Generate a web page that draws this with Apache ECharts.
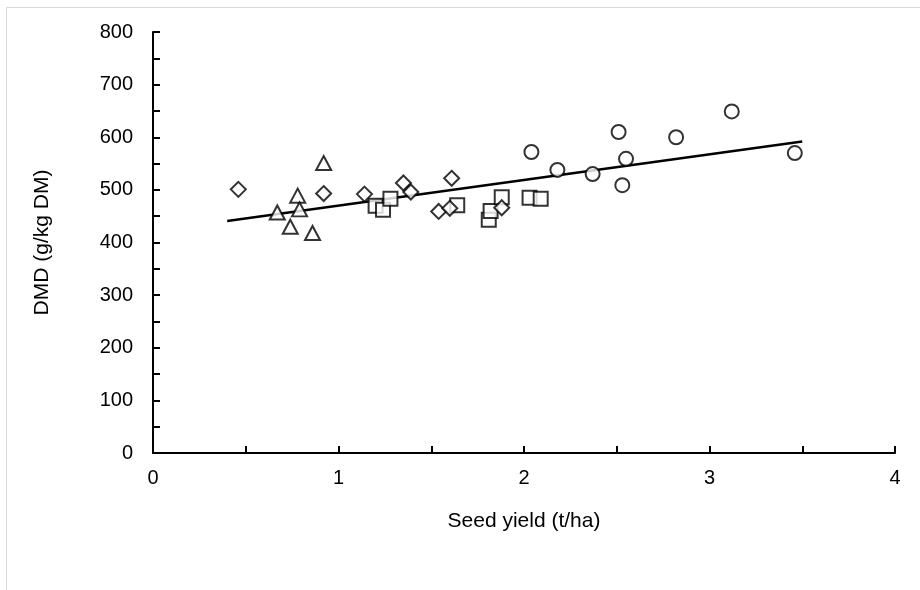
<!DOCTYPE html>
<html>
<head>
<meta charset="utf-8">
<script src="https://cdn.jsdelivr.net/npm/echarts@6/dist/echarts.min.js"></script>
<style>
  html, body { margin: 0; padding: 0; background: #fff; }
  #chart { width: 920px; height: 590px; }
</style>
</head>
<body>
<div id="chart"></div>
<script>
// seed yield (t/ha), DMD (g/kg DM) for each group
const circlePts = [[2.04, 572], [2.18, 538], [2.37, 530], [2.51, 610], [2.55, 559], [2.53, 509], [2.82, 600], [3.12, 649], [3.46, 570]]
const squarePts = [[1.20, 470], [1.24, 462], [1.28, 483], [1.64, 471], [1.81, 443], [1.82, 460], [1.88, 486], [2.03, 485], [2.09, 483]]
const diamondPts = [[0.46, 501], [0.92, 493], [1.14, 492], [1.35, 513], [1.39, 496], [1.61, 522], [1.54, 459], [1.60, 465], [1.88, 466]]
const trianglePts = [[0.92, 551], [0.78, 489], [0.67, 457], [0.79, 463], [0.74, 430], [0.86, 418]]
const trendLine = [[0.40, 441], [3.50, 592]]

const font = 'Liberation Sans, Arial, sans-serif'

const chart = echarts.init(document.getElementById('chart'))

function markerSeries (data, symbol, size) {
  return {
    type: 'scatter',
    data: data,
    symbol: symbol,
    symbolSize: size,
    itemStyle: { color: '#fff', borderColor: '#000', borderWidth: 2 },
    z: 3
  }
}

chart.setOption({
  animation: false,
  graphic: [{
    type: 'rect',
    shape: { x: 6.5, y: 7.5, width: 930, height: 600 },
    style: { fill: null, stroke: '#d9d9d9', lineWidth: 1 }
  }],
  grid: { left: 153, top: 32, right: 25, bottom: 137 },
  xAxis: {
    type: 'value',
    min: 0,
    max: 4,
    interval: 1,
    name: 'Seed yield (t/ha)',
    nameLocation: 'middle',
    nameGap: 58,
    nameTextStyle: { fontFamily: font, fontSize: 21, color: '#000' },
    axisLine: { lineStyle: { color: '#000', width: 2 } },
    axisTick: { inside: true, length: 7, lineStyle: { color: '#000', width: 2 } },
    minorTick: { show: true, splitNumber: 2, length: 7, lineStyle: { color: '#000', width: 2 } },
    axisLabel: { fontFamily: font, fontSize: 20, color: '#000', margin: 15 },
    splitLine: { show: false }
  },
  yAxis: {
    type: 'value',
    min: 0,
    max: 800,
    interval: 100,
    name: 'DMD (g/kg DM)',
    nameLocation: 'middle',
    nameGap: 100,
    nameTextStyle: { fontFamily: font, fontSize: 21, color: '#000' },
    axisLine: { show: true, lineStyle: { color: '#000', width: 2 } },
    axisTick: { show: true, inside: true, length: 7, lineStyle: { color: '#000', width: 2 } },
    minorTick: { show: true, splitNumber: 2, length: 7, lineStyle: { color: '#000', width: 2 } },
    axisLabel: { fontFamily: font, fontSize: 20, color: '#000', margin: 20 },
    splitLine: { show: false }
  },
  series: [
    {
      type: 'line',
      data: trendLine,
      symbol: 'none',
      lineStyle: { color: '#000', width: 2.5 },
      z: 2
    },
    markerSeries(circlePts, 'circle', 14),
    markerSeries(squarePts, 'rect', 14),
    markerSeries(diamondPts, 'diamond', [15, 15]),
    markerSeries(trianglePts, 'triangle', [15, 14])
  ]
})
</script>
</body>
</html>
